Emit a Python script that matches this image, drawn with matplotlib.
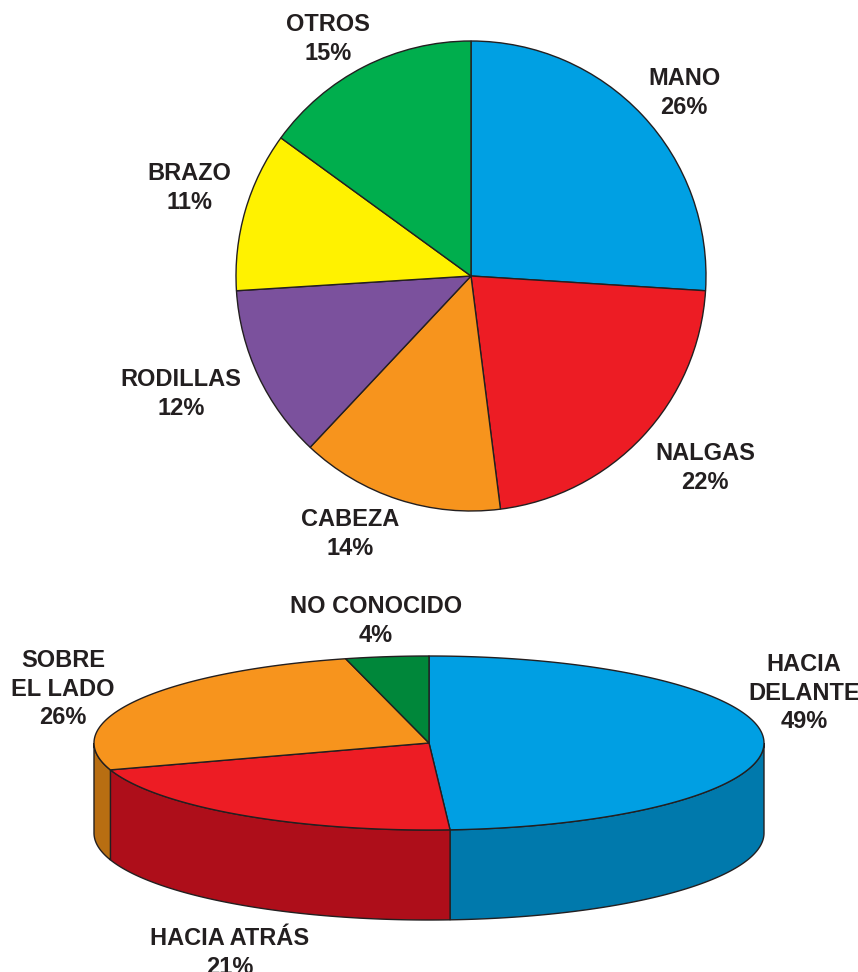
import numpy as np
import matplotlib
matplotlib.use('Agg')
import matplotlib.pyplot as plt
from matplotlib.patches import Polygon

plt.rcParams['font.family'] = ['Liberation Sans', 'DejaVu Sans']

# top chart: zona del cuerpo
top_labels = ['MANO', 'NALGAS', 'CABEZA', 'RODILLAS', 'BRAZO', 'OTROS']
top_values = [26, 22, 14, 12, 11, 15]
top_colors = ['#00A0E3', '#ED1C24', '#F7941D', '#7B519D', '#FFF200', '#00AE4D']

# bottom chart: direccion de la caida
bot_labels = ['HACIA\nDELANTE', 'HACIA ATRÁS', 'SOBRE\nEL LADO', 'NO CONOCIDO']
bot_values = [49, 21, 26, 4]
bot_top_colors = ['#009FE3', '#ED1C24', '#F7941D', '#00873A']
bot_side_colors = ['#0079AC', '#AE0E1A', '#B86E12', '#006029']

W, H = 858, 972
fig = plt.figure(figsize=(W / 100, H / 100), dpi=100)
ax = fig.add_axes([0, 0, 1, 1])

EDGE = '#231F20'
TXT = '#231F20'

def py(y):
    # pixel row (from top) to data y
    return H - y

# ---- top pie ----
ax.pie(top_values, colors=top_colors, startangle=90, counterclock=False,
       center=(471, py(276)), radius=235,
       wedgeprops=dict(edgecolor=EDGE, linewidth=1.0))

top_pos = [(684, 93), (705, 468), (350, 534), (181, 394), (189, 188), (328, 39)]
for lab, val, (x, y) in zip(top_labels, top_values, top_pos):
    ax.text(x, py(y), f'{lab}\n{val}%', ha='center', va='center',
            fontsize=17, fontweight='bold', color=TXT, linespacing=1.28)

# ---- bottom 3D pie ----
cx, cy = 429, py(743)
a, b = 335, 87
depth = 90

fr = np.array(bot_values) / sum(bot_values) * 360
ends = 90 - np.cumsum(fr)
starts = np.concatenate([[90], ends[:-1]])

def arc(t1, t2, n=200, dy=0):
    t = np.radians(np.linspace(t1, t2, n))
    return np.column_stack([cx + a * np.cos(t), cy + b * np.sin(t) - dy])

# sides (front half only: angles between -180 and 0)
for t1, t2, sc in zip(starts, ends, bot_side_colors):
    hi = min(t1, 0)
    lo = max(t2, -180)
    if hi <= lo:
        continue
    upper = arc(hi, lo)
    lower = arc(lo, hi, dy=depth)
    ax.add_patch(Polygon(np.vstack([upper, lower]), closed=True,
                         facecolor=sc, edgecolor=EDGE, linewidth=1.0))

# tops
for t1, t2, tc in zip(starts, ends, bot_top_colors):
    pts = np.vstack([[cx, cy], arc(t1, t2)])
    ax.add_patch(Polygon(pts, closed=True, facecolor=tc,
                         edgecolor=EDGE, linewidth=1.0, joinstyle='round'))

bot_pos = [(804, 693), (230, 953), (63, 689), (376, 621)]
for lab, val, (x, y) in zip(bot_labels, bot_values, bot_pos):
    ax.text(x, py(y), f'{lab}\n{val}%', ha='center', va='center',
            fontsize=17, fontweight='bold', color=TXT, linespacing=1.28)

ax.set_xlim(0, W)
ax.set_ylim(0, H)
ax.set_aspect('auto')
ax.axis('off')

fig.savefig('out.png', dpi=100)
